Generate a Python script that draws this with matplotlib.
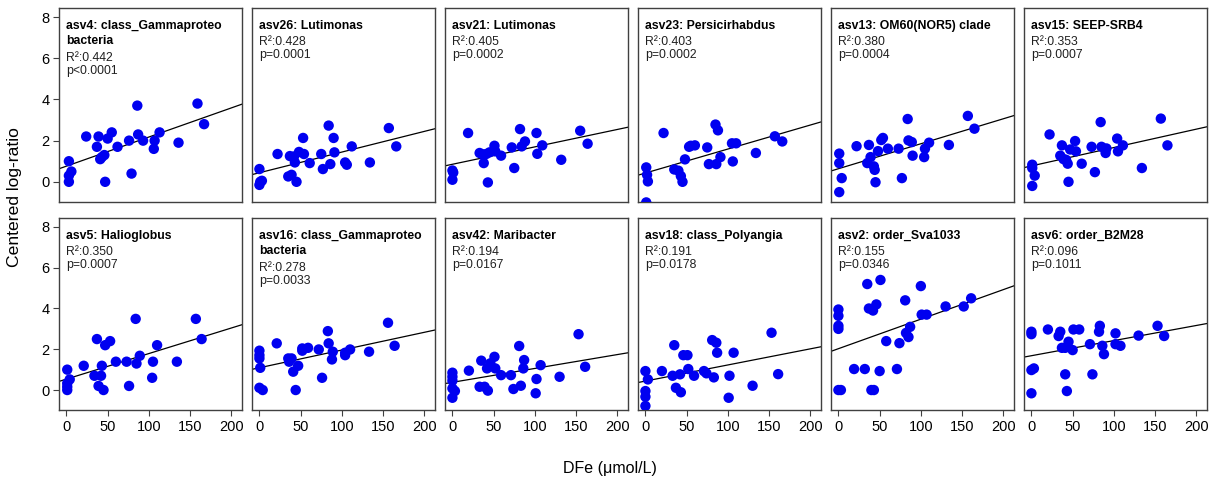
import numpy as np
import matplotlib.pyplot as plt

plt.rcParams['font.family'] = ['Liberation Sans', 'DejaVu Sans']

# taxon label, R^2 and p shown in each panel
names = ["asv4: class_Gammaproteo\nbacteria", "asv26: Lutimonas", "asv21: Lutimonas",
         "asv23: Persicirhabdus", "asv13: OM60(NOR5) clade", "asv15: SEEP-SRB4",
         "asv5: Halioglobus", "asv16: class_Gammaproteo\nbacteria", "asv42: Maribacter",
         "asv18: class_Polyangia", "asv2: order_Sva1033", "asv6: order_B2M28"]
r2 = ["0.442", "0.428", "0.405", "0.403", "0.380", "0.353",
      "0.350", "0.278", "0.194", "0.191", "0.155", "0.096"]
pval = ["p<0.0001", "p=0.0001", "p=0.0002", "p=0.0002", "p=0.0004", "p=0.0007",
        "p=0.0007", "p=0.0033", "p=0.0167", "p=0.0178", "p=0.0346", "p=0.1011"]

# DFe (umol/L) and centered log-ratio for each ASV
x_asv4 = [3, 3, 3, 6, 24, 39, 37, 50, 55, 41, 46, 43, 47, 62, 76, 86, 79, 87, 93, 106, 107, 113, 136, 159, 167]
y_asv4 = [1.0, 0.3, 0.0, 0.5, 2.2, 2.2, 1.7, 2.1, 2.4, 1.1, 1.3, 1.2, 0.0, 1.7, 2.0, 3.7, 0.4, 2.3, 2.0, 1.6, 2.0, 2.4, 1.9, 3.8, 2.8]

x_asv26 = [0, 1, 0, 3, 22, 37, 35, 39, 45, 43, 48, 53, 54, 61, 75, 77, 84, 86, 90, 91, 104, 106, 112, 134, 157, 166, 42]
y_asv26 = [0.62, 0.0, -0.15, 0.05, 1.35, 1.25, 0.26, 0.34, 0.0, 0.94, 1.45, 2.13, 1.35, 0.91, 1.35, 0.62, 2.73, 0.86, 2.13, 1.43, 0.94, 0.83, 1.72, 0.94, 2.61, 1.72, 1.23]

x_asv21 = [0, 1, 0, 19, 33, 37, 38, 43, 41, 45, 51, 52, 59, 72, 75, 82, 84, 88, 102, 103, 109, 132, 155, 164]
y_asv21 = [0.55, 0.45, 0.1, 2.37, 1.4, 1.33, 0.91, -0.03, 1.35, 1.43, 1.75, 1.48, 1.27, 1.67, 0.67, 2.56, 1.72, 1.96, 2.37, 1.36, 1.77, 1.07, 2.48, 1.85]

x_asv23 = [1, 2, 3, 1, 22, 35, 40, 43, 45, 48, 53, 55, 60, 75, 77, 85, 88, 86, 91, 105, 110, 106, 134, 157, 166]
y_asv23 = [0.7, 0.34, 0.02, -1.0, 2.37, 0.6, 0.54, 0.28, 0.0, 1.09, 1.7, 1.75, 1.77, 1.67, 0.86, 2.78, 2.5, 0.86, 1.2, 1.87, 1.87, 0.99, 1.4, 2.21, 1.96]

x_asv13 = [1, 1, 4, 1, 22, 37, 35, 39, 43, 44, 45, 48, 52, 54, 60, 73, 77, 84, 85, 89, 90, 104, 105, 110, 134, 157, 165]
y_asv13 = [1.37, 0.91, 0.18, -0.5, 1.73, 1.79, 0.91, 1.2, 0.75, 0.58, -0.02, 1.49, 2.03, 2.13, 1.61, 1.61, 0.18, 3.05, 2.01, 1.93, 1.27, 1.2, 1.61, 1.9, 1.79, 3.2, 2.58]

x_asv15 = [1, 1, 4, 1, 22, 37, 35, 39, 42, 44, 45, 47, 53, 54, 61, 73, 77, 84, 85, 90, 91, 104, 105, 111, 134, 157, 165]
y_asv15 = [0.83, 0.67, 0.3, -0.2, 2.3, 1.77, 1.27, 1.1, 1.07, 0.88, 0.0, 1.57, 1.98, 1.48, 0.88, 1.7, 0.47, 2.9, 1.7, 1.4, 1.62, 2.1, 1.48, 1.77, 0.67, 3.07, 1.77]

x_asv5 = [1, 1, 1, 1, 4, 21, 37, 34, 42, 39, 45, 43, 47, 53, 60, 73, 76, 84, 85, 89, 105, 104, 110, 134, 157, 164]
y_asv5 = [1.0, 0.33, 0.16, 0.0, 0.52, 1.19, 2.5, 0.7, 0.7, 0.2, 0.0, 1.19, 2.2, 2.4, 1.39, 1.39, 0.2, 3.49, 1.3, 1.68, 1.39, 0.6, 2.2, 1.39, 3.49, 2.5]

x_asv16 = [0, 0, 0, 1, 0, 4, 21, 35, 39, 36, 41, 44, 47, 52, 52, 59, 72, 76, 83, 84, 89, 88, 104, 104, 110, 133, 156, 164]
y_asv16 = [1.93, 1.71, 1.55, 1.09, 0.11, 0.0, 2.29, 1.55, 1.55, 1.39, 0.9, 0.0, 1.19, 2.04, 1.93, 2.07, 1.99, 0.6, 2.89, 2.29, 1.88, 1.5, 1.71, 1.83, 1.99, 1.88, 3.3, 2.17]

x_asv42 = [0, 0, 0, 0, 3, 0, 20, 35, 33, 39, 43, 42, 46, 51, 52, 59, 71, 74, 83, 81, 87, 86, 102, 101, 107, 130, 153, 161]
y_asv42 = [0.85, 0.65, 0.46, 0.08, -0.05, -0.38, 0.95, 1.44, 0.16, 0.16, -0.03, 1.06, 1.31, 1.63, 1.06, 0.73, 0.73, 0.05, 0.21, 2.16, 1.47, 1.06, 0.54, -0.16, 1.22, 0.65, 2.74, 1.14]

x_asv18 = [0, 0, 0, 0, 3, 20, 35, 33, 37, 43, 42, 46, 51, 52, 59, 71, 74, 81, 86, 87, 83, 107, 102, 101, 130, 153, 161]
y_asv18 = [0.93, -0.05, -0.33, -0.78, 0.52, 0.93, 2.2, 0.7, 0.11, -0.11, 0.77, 1.71, 1.71, 1.03, 0.7, 0.93, 0.82, 2.45, 2.32, 1.83, 0.62, 1.83, 0.7, -0.38, 0.21, 2.81, 0.78]

x_asv2 = [0, 0, 0, 0, 0, 3, 19, 32, 35, 37, 42, 46, 40, 43, 50, 51, 58, 71, 74, 81, 82, 85, 87, 100, 101, 107, 130, 152, 161]
y_asv2 = [3.95, 3.64, 3.15, 3.0, 0.0, 0.0, 1.03, 1.03, 5.2, 4.0, 3.9, 4.2, 0.0, 0.0, 0.93, 5.4, 2.4, 1.03, 2.3, 4.4, 2.8, 2.6, 3.1, 5.1, 3.7, 3.7, 4.1, 4.1, 4.5]

x_asv6 = [0, 0, 0, 3, 0, 20, 33, 35, 37, 41, 45, 50, 41, 43, 51, 58, 71, 74, 82, 83, 86, 88, 102, 102, 108, 130, 153, 161]
y_asv6 = [2.86, 2.74, 0.98, 1.06, -0.16, 2.97, 2.65, 2.86, 2.07, 2.07, 2.37, 1.96, 0.77, -0.05, 2.97, 2.97, 2.25, 0.77, 2.86, 3.15, 2.17, 1.76, 2.78, 2.25, 2.17, 2.67, 3.15, 2.65]

xs = [x_asv4, x_asv26, x_asv21, x_asv23, x_asv13, x_asv15,
      x_asv5, x_asv16, x_asv42, x_asv18, x_asv2, x_asv6]
ys = [y_asv4, y_asv26, y_asv21, y_asv23, y_asv13, y_asv15,
      y_asv5, y_asv16, y_asv42, y_asv18, y_asv2, y_asv6]

W, H = 1214, 480
fig = plt.figure(figsize=(W / 100, H / 100), dpi=100)

pw, gap, left0 = 183, 10, 59
rows = [(8, 202), (218, 410)]   # top/bottom pixel edges of each row

for i in range(12):
    r, c = divmod(i, 6)
    top, bot = rows[r]
    lx = left0 + c * (pw + gap)
    ax = fig.add_axes([lx / W, 1 - bot / H, pw / W, (bot - top) / H])
    x = np.array(xs[i], float)
    y = np.array(ys[i], float)
    ax.scatter(x, y, s=56, color='#0000f0', edgecolors='none', zorder=3)
    b, a = np.polyfit(x, y, 1)
    xl = np.array([-9, 213])
    ax.plot(xl, a + b * xl, color='black', lw=0.9, zorder=2)
    ax.set_xlim(-9, 213)
    ax.set_ylim(-0.98, 8.44)
    for sp in ax.spines.values():
        sp.set_color('#404040')
        sp.set_linewidth(1.0)
    ax.set_xticks([0, 50, 100, 150, 200])
    ax.set_yticks([0, 2, 4, 6, 8])
    ax.tick_params(labelsize=10.5, length=4, width=0.8, color='#404040', pad=3)
    if r == 0:
        ax.tick_params(axis='x', bottom=False, labelbottom=False)
    if c > 0:
        ax.tick_params(axis='y', left=False, labelleft=False)

    # panel annotation: name, R^2, p
    nlines = names[i].count('\n') + 1
    ax.annotate(names[i], xy=(0, 1), xycoords='axes fraction', xytext=(7, -12),
                textcoords='offset pixels', va='top', ha='left', fontsize=8.8,
                fontweight='bold', linespacing=1.3)
    y_r = 18 + 16 * nlines
    ax.annotate("R\u00b2:" + r2[i], xy=(0, 1), xycoords='axes fraction',
                xytext=(7, -y_r), textcoords='offset pixels', va='center',
                ha='left', fontsize=8.8, color='#202020')
    ax.annotate(pval[i], xy=(0, 1), xycoords='axes fraction',
                xytext=(7, -(y_r + 13)), textcoords='offset pixels', va='center',
                ha='left', fontsize=8.8, color='#202020')

fig.text(15 / W, 1 - 197 / H, 'Centered log-ratio', rotation=90, fontsize=12.6,
         ha='center', va='center')
fig.text(610 / W, 1 - 468 / H, 'DFe (\u03bcmol/L)', fontsize=11.5,
         ha='center', va='center')

fig.savefig('out.png', dpi=100)
